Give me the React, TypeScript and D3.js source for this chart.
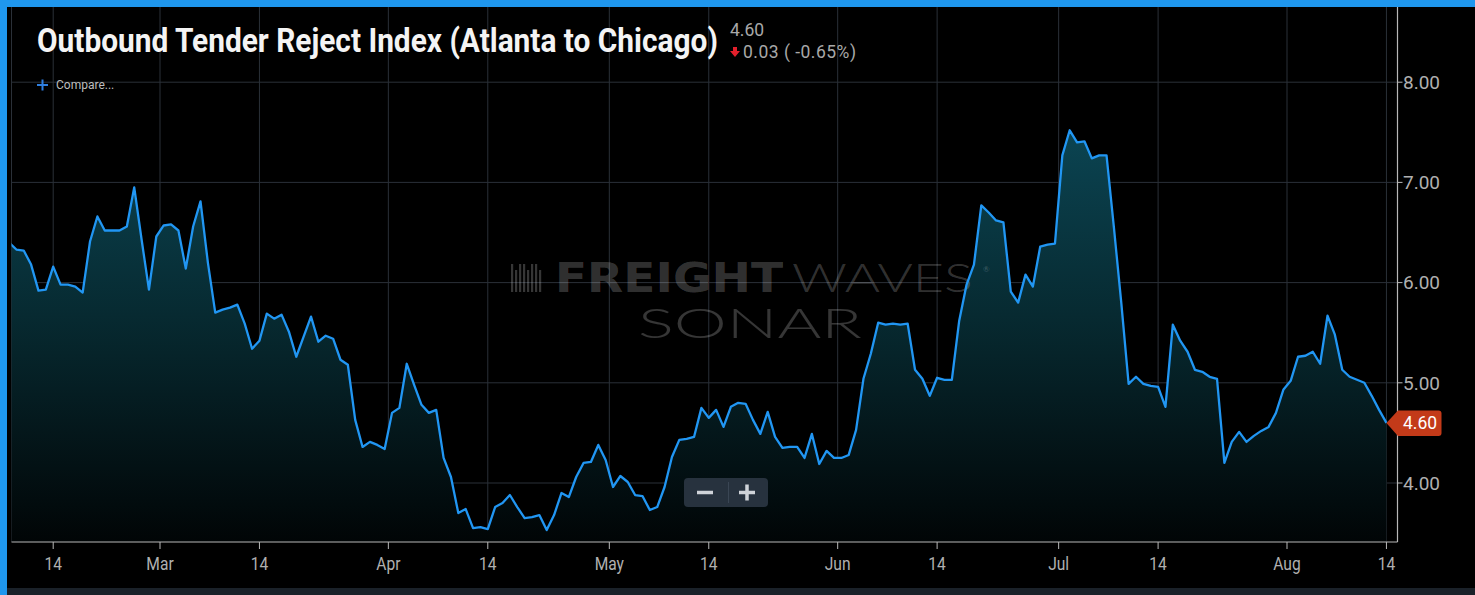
import React, { useLayoutEffect, useRef, useState } from 'react';
import * as d3 from 'd3';

const W = 1475;
const H = 595;

// Daily index values (2019), first value = Feb 8
const seriesStart = Date.UTC(2019, 1, 8);
const febValues = [6.40, 6.33, 6.32, 6.18, 5.92, 5.93, 6.16, 5.98, 5.98, 5.96, 5.90, 6.41, 6.66, 6.52, 6.52, 6.52, 6.56, 6.95, 6.43, 5.93, 6.46];
const marValues = [6.57, 6.58, 6.52, 6.14, 6.56, 6.81, 6.20, 5.70, 5.73, 5.75, 5.78, 5.59, 5.34, 5.42, 5.69, 5.64, 5.68, 5.51, 5.26, 5.46, 5.66, 5.41, 5.47, 5.44, 5.23, 5.18, 4.63, 4.36, 4.41, 4.38, 4.34];
const aprValues = [4.70, 4.75, 5.19, 4.98, 4.78, 4.70, 4.73, 4.25, 4.06, 3.70, 3.74, 3.55, 3.56, 3.54, 3.76, 3.80, 3.88, 3.76, 3.65, 3.66, 3.68, 3.53, 3.68, 3.90, 3.86, 4.06, 4.20, 4.21, 4.38, 4.23];
const mayValues = [3.96, 4.07, 4.01, 3.88, 3.87, 3.73, 3.76, 3.96, 4.26, 4.43, 4.44, 4.46, 4.75, 4.65, 4.73, 4.56, 4.76, 4.80, 4.79, 4.63, 4.49, 4.71, 4.46, 4.35, 4.36, 4.36, 4.25, 4.49, 4.19, 4.32, 4.25];
const junValues = [4.25, 4.28, 4.53, 5.04, 5.29, 5.60, 5.58, 5.59, 5.58, 5.59, 5.13, 5.04, 4.87, 5.05, 5.03, 5.03, 5.62, 5.98, 6.18, 6.77, 6.70, 6.62, 6.60, 5.91, 5.80, 6.08, 5.96, 6.36, 6.38, 6.39];
const julValues = [7.27, 7.52, 7.40, 7.41, 7.24, 7.27, 7.27, 6.55, 5.80, 4.99, 5.06, 4.99, 4.97, 4.96, 4.76, 5.58, 5.42, 5.31, 5.13, 5.11, 5.06, 5.04, 4.20, 4.41, 4.51, 4.41, 4.47, 4.52, 4.56, 4.70, 4.93];
const augValues = [5.02, 5.26, 5.27, 5.31, 5.19, 5.67, 5.48, 5.13, 5.06, 5.03, 5.00, 4.87, 4.73, 4.60];

const yTickValues = [4, 5, 6, 7, 8];
const monthTickDates = [Date.UTC(2019, 2, 1), Date.UTC(2019, 3, 1), Date.UTC(2019, 4, 1), Date.UTC(2019, 5, 1), Date.UTC(2019, 6, 1), Date.UTC(2019, 7, 1)];
const midTickDates = [Date.UTC(2019, 1, 14), Date.UTC(2019, 2, 14), Date.UTC(2019, 3, 14), Date.UTC(2019, 4, 14), Date.UTC(2019, 5, 14), Date.UTC(2019, 6, 14), Date.UTC(2019, 7, 14)];

const titleText = 'Outbound Tender Reject Index (Atlanta to Chicago)';
const lastValueText = '4.60';
const changeText = '0.03 ( -0.65%)';

const DAY = 86400000;
const HALF = DAY / 2;

const allValues = [...febValues, ...marValues, ...aprValues, ...mayValues, ...junValues, ...julValues, ...augValues];
const data = allValues.map((v, i) => ({ t: new Date(seriesStart + i * DAY + HALF), v }));

const plotLeft = 11.5;
const plotRight = 1397.5;
const plotTop = 7;
const plotBottom = 542;

const x = d3.scaleUtc().domain([new Date(monthTickDates[0]), new Date(monthTickDates[5])]).range([160, 1287]);
const y = d3.scaleLinear().domain([4, 8]).range([483, 82.2]);

const xTicks = [
  ...monthTickDates.map((d) => ({ pos: x(new Date(d)), label: d3.utcFormat('%b')(new Date(d)) })),
  ...midTickDates.map((d) => ({ pos: x(new Date(d + HALF)), label: d3.utcFormat('%d')(new Date(d)) })),
];

const lineGen = d3.line<{ t: Date; v: number }>().x((d) => x(d.t)).y((d) => y(d.v));
const areaGen = d3.area<{ t: Date; v: number }>().x((d) => x(d.t)).y0(plotBottom).y1((d) => y(d.v));

const gridColor = '#2a3038';
const axisColor = '#b8b8b8';
const labelColor = '#b0b0b0';

const TITLE_W = 681;

export default function App() {
  const titleRef = useRef<SVGTextElement>(null);
  const [titleScale, setTitleScale] = useState(0.85);
  useLayoutEffect(() => {
    if (titleRef.current) {
      const len = titleRef.current.getComputedTextLength();
      if (len > 0) setTitleScale(TITLE_W / len);
    }
  }, []);

  const last = data[data.length - 1];
  const lx = x(last.t);
  const ly = y(last.v);
  return (
    <svg width={W} height={H} style={{ position: 'absolute', left: 0, top: 0, display: 'block' }} fontFamily="Roboto, 'Noto Sans', sans-serif">
      <defs>
        <clipPath id="plotClip">
          <rect x={plotLeft} y={plotTop} width={plotRight - plotLeft} height={plotBottom - plotTop} />
        </clipPath>
        <linearGradient id="areaGrad" gradientUnits="userSpaceOnUse" x1="0" y1={y(7.52)} x2="0" y2={plotBottom}>
          <stop offset="0" stopColor="#0b4452" />
          <stop offset="0.45" stopColor="#072a31" />
          <stop offset="1" stopColor="#010506" />
        </linearGradient>
      </defs>
      {/* frame */}
      <rect x={0} y={0} width={W} height={H} fill="#1f97ee" />
      <rect x={7} y={7} width={W - 7} height={H - 7} fill="#000000" />
      <rect x={7} y={588} width={W - 7} height={H - 588} fill="#1a2129" />

      {/* grid */}
      <line x1={plotLeft} x2={plotLeft} y1={plotTop} y2={plotBottom} stroke={gridColor} />
      {yTickValues.map((v) => (
        <line key={'gy' + v} x1={plotLeft} x2={plotRight} y1={y(v)} y2={y(v)} stroke={gridColor} />
      ))}
      {xTicks.map((t, i) => (
        <line key={'gx' + i} x1={t.pos} x2={t.pos} y1={plotTop} y2={plotBottom} stroke={gridColor} />
      ))}

      {/* area */}
      <g clipPath="url(#plotClip)">
        <path d={areaGen(data) || ''} fill="url(#areaGrad)" />
      </g>

      {/* watermark */}
      <g fill="#ffffff" fillOpacity={0.21}>
        {[0, 4, 8, 12, 16, 20, 24, 28].map((dx, i) => (
          <rect key={'wb' + i} x={511 + dx} y={i % 3 === 1 ? 270 : 264} width={2.2} height={i % 3 === 1 ? 22 : 28} />
        ))}
        <text x={555} y={292} fontSize={40} fontWeight={900} fontFamily="'DejaVu Sans', sans-serif" textLength={228} lengthAdjust="spacingAndGlyphs">FREIGHT</text>
        <text x={792} y={292} fontSize={40} fontWeight={300} fontFamily="'Lato', 'Open Sans', sans-serif" textLength={181} lengthAdjust="spacingAndGlyphs">WAVES</text>
        <text x={983} y={272} fontSize={8} fontFamily="'Lato', sans-serif">®</text>
        <text x={638} y={338} fontSize={42} fontWeight={300} fontFamily="'Lato', 'Open Sans', sans-serif" textLength={224} lengthAdjust="spacingAndGlyphs">SONAR</text>
      </g>

      {/* line */}
      <g clipPath="url(#plotClip)">
        <path d={lineGen(data) || ''} fill="none" stroke="#2196f3" strokeWidth={2.3} strokeLinejoin="round" />
      </g>

      {/* axes */}
      <line x1={plotLeft} x2={plotRight} y1={plotBottom} y2={plotBottom} stroke={axisColor} strokeWidth={1.2} />
      <line x1={plotRight} x2={plotRight} y1={plotTop} y2={plotBottom} stroke={axisColor} strokeWidth={1.2} />
      {xTicks.map((t, i) => (
        <g key={'xt' + i}>
          <line x1={t.pos} x2={t.pos} y1={plotBottom} y2={plotBottom + 7} stroke={axisColor} />
          <text transform={`translate(${t.pos},570) scale(0.82,1)`} textAnchor="middle" fontSize={19} fill={labelColor}>{t.label}</text>
        </g>
      ))}
      {yTickValues.map((v) => (
        <g key={'yt' + v}>
          <line x1={plotRight} x2={plotRight + 5} y1={y(v)} y2={y(v)} stroke={axisColor} />
          <text x={1403} y={y(v) + 6.8} fontSize={19} fill={labelColor}>{d3.format('.2f')(v)}</text>
        </g>
      ))}

      {/* last value tag */}
      <path d={`M${lx},${ly} L${lx + 11.5},${ly - 12.5} H${1438.5} Q${1441.5},${ly - 12.5} ${1441.5},${ly - 9.5} V${ly + 10} Q${1441.5},${ly + 13} ${1438.5},${ly + 13} H${lx + 11.5} Z`} fill="#c33a19" />
      <text x={1403} y={ly + 6.5} fontSize={17.5} fill="#ffffff">{d3.format('.2f')(last.v)}</text>

      {/* title and header */}
      <text ref={titleRef} transform={`translate(37,52) scale(${titleScale},1)`} fontSize={34} fontWeight={700} fill="#f4f4f4">{titleText}</text>
      <text x={730} y={36} fontSize={17.5} fill="#a8a8a8">{lastValueText}</text>
      <path d="M733,47 h4 v4 h3 l-5,6 l-5,-6 h3 z" fill="#e3202c" />
      <text x={743} y={57.5} fontSize={17.5} fill="#a8a8a8" textLength={113} lengthAdjust="spacing">{changeText}</text>

      {/* compare legend */}
      <line x1={37} x2={48} y1={85} y2={85} stroke="#2f7fe0" strokeWidth={2} />
      <line x1={42.5} x2={42.5} y1={79.5} y2={90.5} stroke="#2f7fe0" strokeWidth={2} />
      <text x={56} y={89} fontSize={12} fill="#bdbdbd">Compare...</text>

      {/* zoom buttons */}
      <rect x={684} y={478} width={84} height={29} rx={4} fill="#27323e" />
      <line x1={728.5} x2={728.5} y1={482} y2={503} stroke="#3a4654" />
      <line x1={697} x2={713} y1={492.5} y2={492.5} stroke="#cfd3d8" strokeWidth={3.5} />
      <line x1={739} x2={755} y1={492.5} y2={492.5} stroke="#cfd3d8" strokeWidth={3.5} />
      <line x1={747} x2={747} y1={484.5} y2={500.5} stroke="#cfd3d8" strokeWidth={3.5} />
    </svg>
  );
}
